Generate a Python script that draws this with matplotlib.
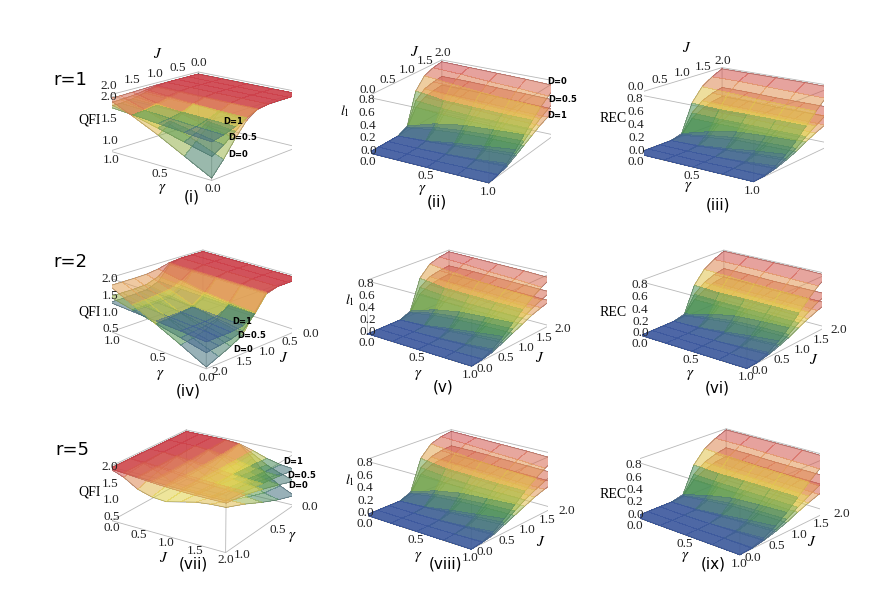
import numpy as np
import matplotlib
matplotlib.use('Agg')
import matplotlib.pyplot as plt
from matplotlib.colors import LinearSegmentedColormap, Normalize
from mpl_toolkits.mplot3d import proj3d
from mpl_toolkits.mplot3d.art3d import Poly3DCollection

plt.rcParams['mathtext.fontset'] = 'stix'

# grid of the surfaces: rows follow gamma, columns follow J
GAMMA = [0.0, 0.25, 0.5, 0.75, 1.0]
J_VALS = [0.0, 0.25, 0.5, 0.75, 1.0, 1.25, 1.5, 1.75, 2.0]

# QFI, r=1  (D=0, D=0.5, D=1)
QFI_R1_D0 = [[2, 2, 2, 2, 1.97, 1.80, 1.50, 1.15, 0.85],
             [2, 2, 2, 2, 1.97, 1.85, 1.62, 1.38, 1.15],
             [2, 2, 2, 2, 1.98, 1.90, 1.75, 1.60, 1.45],
             [2, 2, 2, 2, 1.99, 1.94, 1.86, 1.79, 1.72],
             [2, 2, 2, 2, 2.00, 1.99, 1.98, 1.97, 1.97]]
QFI_R1_D05 = [[2, 2, 2, 2, 1.97, 1.85, 1.65, 1.45, 1.30],
              [2, 2, 2, 2, 1.97, 1.87, 1.72, 1.56, 1.45],
              [2, 2, 2, 2, 1.97, 1.90, 1.78, 1.67, 1.60],
              [2, 2, 2, 2, 1.98, 1.92, 1.84, 1.78, 1.74],
              [2, 2, 2, 2, 1.98, 1.94, 1.90, 1.88, 1.87]]
QFI_R1_D1 = [[2, 2, 2, 2, 1.96, 1.86, 1.75, 1.66, 1.60],
             [2, 2, 2, 2, 1.96, 1.87, 1.77, 1.69, 1.65],
             [2, 2, 2, 2, 1.96, 1.88, 1.79, 1.73, 1.70],
             [2, 2, 2, 2, 1.96, 1.88, 1.81, 1.77, 1.75],
             [2, 2, 2, 2, 1.96, 1.89, 1.83, 1.80, 1.80]]

# QFI, r=2
QFI_R2_D0 = [[2, 2, 2, 1.95, 1.50, 1.00, 0.80, 0.65, 0.50],
             [2, 2, 2, 1.95, 1.55, 1.15, 1.00, 0.90, 0.85],
             [2, 2, 2, 1.95, 1.62, 1.35, 1.25, 1.20, 1.18],
             [2, 2, 2, 1.96, 1.75, 1.60, 1.55, 1.52, 1.50],
             [2, 2, 2, 1.97, 1.88, 1.83, 1.82, 1.82, 1.82]]
QFI_R2_D05 = [[2, 2, 2, 1.93, 1.45, 1.10, 1.00, 0.95, 0.90],
              [2, 2, 2, 1.93, 1.50, 1.20, 1.12, 1.08, 1.05],
              [2, 2, 2, 1.94, 1.55, 1.30, 1.25, 1.22, 1.20],
              [2, 2, 2, 1.94, 1.60, 1.42, 1.38, 1.36, 1.35],
              [2, 2, 2, 1.95, 1.65, 1.52, 1.50, 1.50, 1.50]]
QFI_R2_D1 = [[2, 2, 2, 1.90, 1.45, 1.25, 1.20, 1.20, 1.20],
             [2, 2, 2, 1.90, 1.45, 1.28, 1.25, 1.24, 1.24],
             [2, 2, 2, 1.90, 1.47, 1.30, 1.28, 1.27, 1.27],
             [2, 2, 2, 1.90, 1.48, 1.33, 1.31, 1.30, 1.30],
             [2, 2, 2, 1.90, 1.50, 1.36, 1.34, 1.33, 1.33]]

# QFI, r=5
QFI_R5_D0 = [[2, 2.00, 2.00, 2.00, 1.95, 1.60, 1.20, 0.95, 0.75],
             [2, 2.00, 2.00, 1.95, 1.80, 1.50, 1.25, 1.05, 0.95],
             [2, 2.00, 1.95, 1.80, 1.60, 1.45, 1.35, 1.25, 1.20],
             [2, 1.95, 1.80, 1.60, 1.50, 1.50, 1.50, 1.48, 1.48],
             [2, 1.85, 1.60, 1.48, 1.45, 1.55, 1.65, 1.70, 1.72]]
QFI_R5_D05 = [[2, 2.00, 2.00, 2.00, 1.95, 1.75, 1.50, 1.33, 1.20],
              [2, 2.00, 2.00, 1.97, 1.88, 1.74, 1.58, 1.46, 1.40],
              [2, 2.00, 1.97, 1.92, 1.84, 1.75, 1.67, 1.61, 1.58],
              [2, 1.98, 1.94, 1.89, 1.84, 1.80, 1.77, 1.75, 1.74],
              [2, 1.97, 1.93, 1.90, 1.87, 1.85, 1.84, 1.84, 1.84]]
QFI_R5_D1 = [[2, 2.00, 2.00, 2.00, 1.97, 1.85, 1.70, 1.60, 1.55],
             [2, 2.00, 2.00, 1.98, 1.93, 1.85, 1.76, 1.69, 1.66],
             [2, 2.00, 1.98, 1.95, 1.91, 1.86, 1.81, 1.77, 1.75],
             [2, 1.99, 1.97, 1.94, 1.91, 1.88, 1.86, 1.85, 1.84],
             [2, 1.98, 1.96, 1.94, 1.92, 1.91, 1.90, 1.90, 1.90]]

# l1 norm of coherence (same shape for r=1,2,5)
L1_D0 = [[0, 0.00, 0.00, 0.00, 0.08, 0.58, 0.76, 0.82, 0.85],
         [0, 0.00, 0.00, 0.03, 0.22, 0.52, 0.71, 0.80, 0.84],
         [0, 0.00, 0.02, 0.10, 0.30, 0.51, 0.67, 0.77, 0.83],
         [0, 0.01, 0.05, 0.16, 0.33, 0.50, 0.64, 0.75, 0.82],
         [0, 0.03, 0.10, 0.22, 0.36, 0.50, 0.62, 0.72, 0.80]]
L1_D05 = [[0, 0.00, 0.00, 0.00, 0.06, 0.42, 0.54, 0.58, 0.60],
          [0, 0.00, 0.00, 0.02, 0.16, 0.38, 0.51, 0.57, 0.60],
          [0, 0.00, 0.01, 0.07, 0.21, 0.36, 0.48, 0.55, 0.59],
          [0, 0.01, 0.04, 0.12, 0.24, 0.36, 0.46, 0.53, 0.58],
          [0, 0.02, 0.07, 0.16, 0.26, 0.36, 0.44, 0.51, 0.57]]
L1_D1 = [[0, 0.00, 0.00, 0.00, 0.05, 0.31, 0.40, 0.43, 0.45],
         [0, 0.00, 0.00, 0.02, 0.12, 0.28, 0.38, 0.42, 0.45],
         [0, 0.00, 0.01, 0.05, 0.16, 0.27, 0.36, 0.41, 0.44],
         [0, 0.01, 0.03, 0.09, 0.18, 0.27, 0.34, 0.39, 0.43],
         [0, 0.02, 0.05, 0.12, 0.19, 0.26, 0.33, 0.38, 0.42]]

# relative entropy of coherence
REC_D0 = [[0, 0.00, 0.00, 0.00, 0.05, 0.48, 0.69, 0.80, 0.88],
          [0, 0.00, 0.00, 0.02, 0.17, 0.46, 0.67, 0.80, 0.88],
          [0, 0.00, 0.01, 0.07, 0.26, 0.47, 0.65, 0.79, 0.88],
          [0, 0.01, 0.04, 0.13, 0.29, 0.47, 0.64, 0.78, 0.88],
          [0, 0.02, 0.08, 0.18, 0.31, 0.47, 0.63, 0.77, 0.87]]
REC_D05 = [[0, 0.00, 0.00, 0.00, 0.03, 0.32, 0.46, 0.53, 0.57],
           [0, 0.00, 0.00, 0.01, 0.11, 0.31, 0.44, 0.52, 0.57],
           [0, 0.00, 0.01, 0.05, 0.17, 0.31, 0.43, 0.52, 0.56],
           [0, 0.01, 0.03, 0.09, 0.19, 0.31, 0.42, 0.51, 0.56],
           [0, 0.01, 0.05, 0.12, 0.20, 0.31, 0.41, 0.50, 0.56]]
REC_D1 = [[0, 0.00, 0.00, 0.00, 0.02, 0.23, 0.33, 0.39, 0.42],
          [0, 0.00, 0.00, 0.01, 0.08, 0.23, 0.32, 0.38, 0.42],
          [0, 0.00, 0.01, 0.04, 0.13, 0.23, 0.32, 0.38, 0.41],
          [0, 0.01, 0.02, 0.07, 0.14, 0.23, 0.31, 0.37, 0.41],
          [0, 0.01, 0.04, 0.09, 0.15, 0.23, 0.30, 0.36, 0.41]]

GAMMA_TICKS = [0.0, 0.5, 1.0]
J_TICKS = [0.0, 0.5, 1.0, 1.5, 2.0]
QFI_TICKS_R1 = [1.0, 1.5, 2.0]
QFI_TICKS = [0.5, 1.0, 1.5, 2.0]
COH_TICKS = [0.0, 0.2, 0.4, 0.6, 0.8]
D_LABELS = ['D=0', 'D=0.5', 'D=1']

CMAP = LinearSegmentedColormap.from_list(
    'darkrainbow',
    [(0.0, '#3d599e'), (0.35, '#4c9350'), (0.6, '#e0d24a'),
     (0.8, '#e39a55'), (1.0, '#cd414b')])

FIG_W, FIG_H = 872, 606
SERIF = 'Liberation Serif'
TICK_FS = 9.5


def fx(px):
    return px / FIG_W


def fy(py):
    return 1 - py / FIG_H


def draw_box(ax, zlo, zhi):
    kw = dict(color='#b8b8b8', lw=0.6)
    for z in (zlo, zhi):
        ax.plot([0, 1, 1, 0, 0], [0, 0, 2, 2, 0], [z] * 5, **kw)
    for x in (0, 1):
        for y in (0, 2):
            ax.plot([x, x], [y, y], [zlo, zhi], **kw)


def draw_surfaces(ax, surfaces):
    polys, colors = [], []
    for z in surfaces:
        z = np.asarray(z, dtype=float)
        norm = Normalize(z.min(), z.max())
        for i in range(len(GAMMA) - 1):
            for j in range(len(J_VALS) - 1):
                quad = [(GAMMA[i], J_VALS[j], z[i, j]),
                        (GAMMA[i + 1], J_VALS[j], z[i + 1, j]),
                        (GAMMA[i + 1], J_VALS[j + 1], z[i + 1, j + 1]),
                        (GAMMA[i], J_VALS[j + 1], z[i, j + 1])]
                level = np.mean([q[2] for q in quad])
                rgba = list(CMAP(norm(level)))
                rgba[3] = 0.55
                polys.append(quad)
                colors.append(rgba)
    coll = Poly3DCollection(polys, facecolors=colors, edgecolors='none',
                            linewidths=0, antialiased=False)
    ax.add_collection3d(coll)

    # outline of every sheet
    line_kw = dict(color='#2a2a2a', lw=0.5, alpha=0.7)
    for z in surfaces:
        z = np.asarray(z, dtype=float)
        ax.plot(GAMMA, [0] * len(GAMMA), z[:, 0], **line_kw)
        ax.plot(GAMMA, [2] * len(GAMMA), z[:, -1], **line_kw)
        ax.plot([0] * len(J_VALS), J_VALS, z[0], **line_kw)
        ax.plot([1] * len(J_VALS), J_VALS, z[-1], **line_kw)


def to_px(ax, x, y, z):
    """Project a 3D data point to figure pixels (origin bottom-left)."""
    x2, y2, _ = proj3d.proj_transform(x, y, z, ax.M)
    return ax.transData.transform((x2, y2))


def tick(fig, ax, pt, s, dx, dy, ha, va):
    px, py = to_px(ax, *pt)
    fig.text((px + dx) / FIG_W, (py + dy) / FIG_H, s, fontsize=TICK_FS,
             family=SERIF, color='#222222', ha=ha, va=va)


def label_ticks(fig, ax, kind, j_side, zlim, zticks):
    zlo, zhi = zlim
    if kind == 'B':
        for g in GAMMA_TICKS:
            tick(fig, ax, (g, 0, zlo), f'{g:.1f}', -1, -3, 'center', 'top')
        for zt in zticks:
            tick(fig, ax, (0, 0, zt), f'{zt:.1f}', 0, 2, 'center', 'center')
        if j_side == 'top':
            for j in J_TICKS:
                tick(fig, ax, (0, j, zhi), f'{j:.1f}', 1, 1, 'center', 'bottom')
        else:
            for j in J_TICKS:
                tick(fig, ax, (1, j, zlo), f'{j:.1f}', 5, -3, 'left', 'center')
    elif kind == 'A':
        for g in GAMMA_TICKS:
            tick(fig, ax, (g, 2, zlo), f'{g:.1f}', 1, -3, 'center', 'top')
        for zt in zticks:
            tick(fig, ax, (1, 2, zt), f'{zt:.1f}', 0, 1, 'center', 'center')
        if j_side == 'top':
            for j in J_TICKS:
                tick(fig, ax, (1, j, zhi), f'{j:.1f}', 0, 3, 'center', 'bottom')
        else:
            for j in J_TICKS:
                tick(fig, ax, (0, j, zlo), f'{j:.1f}', 5, -3, 'left', 'center')
    else:
        for j in J_TICKS:
            tick(fig, ax, (1, j, zlo), f'{j:.1f}', 0, -1, 'center', 'top')
        for g in GAMMA_TICKS:
            tick(fig, ax, (g, 2, zlo), f'{g:.1f}', 8, -2, 'left', 'center')
        for zt in zticks:
            tick(fig, ax, (1, 0, zt), f'{zt:.1f}', 0, 2, 'center', 'center')


PANELS = [
    dict(surf=[QFI_R1_D0, QFI_R1_D05, QFI_R1_D1], kind='A', azim=131, elev=16,
         zoom=1.07, jside='top', zlim=(0.8, 2.05), zticks=QFI_TICKS_R1,
         center=(202, 124), tag='(i)', tagpos=(192, 197), zlab='QFI',
         zlabpos=(90, 120), jlabpos=(158, 53), glabpos=(162, 188),
         dpos=[(228, 154), (228, 138), (223, 122)]),
    dict(surf=[L1_D0, L1_D05, L1_D1], kind='B', azim=-59, elev=21,
         zoom=1.09, jside='top', zlim=(0.0, 0.88), zticks=COH_TICKS,
         center=(461, 119), tag='(ii)', tagpos=(437, 202), zlab='$l_1$',
         zlabpos=(345, 111), jlabpos=(415, 52), glabpos=(422, 189),
         dpos=[(547, 81), (548, 100), (547, 115)]),
    dict(surf=[REC_D0, REC_D05, REC_D1], kind='B', azim=-54, elev=16,
         zoom=1.13, jside='top', zlim=(0.0, 0.9), zticks=COH_TICKS,
         center=(734, 122), tag='(iii)', tagpos=(718, 205), zlab='REC',
         zlabpos=(613, 118), jlabpos=(687, 48), glabpos=(688, 187), dpos=None),
    dict(surf=[QFI_R2_D0, QFI_R2_D05, QFI_R2_D1], kind='A', azim=134, elev=20,
         zoom=1.06, jside='right', zlim=(0.45, 2.05), zticks=QFI_TICKS,
         center=(202, 307), tag='(iv)', tagpos=(188, 391), zlab='QFI',
         zlabpos=(90, 312), jlabpos=(284, 357), glabpos=(160, 374),
         dpos=[(233, 350), (237, 335), (232, 321)]),
    dict(surf=[L1_D0, L1_D05, L1_D1], kind='B', azim=-52, elev=20,
         zoom=1.04, jside='right', zlim=(0.0, 0.88), zticks=COH_TICKS,
         center=(457, 306), tag='(v)', tagpos=(443, 387), zlab='$l_1$',
         zlabpos=(350, 300), jlabpos=(540, 358), glabpos=(418, 374), dpos=None),
    dict(surf=[REC_D0, REC_D05, REC_D1], kind='B', azim=-52, elev=20,
         zoom=1.06, jside='right', zlim=(0.0, 0.9), zticks=COH_TICKS,
         center=(732, 307), tag='(vi)', tagpos=(717, 388), zlab='REC',
         zlabpos=(613, 313), jlabpos=(814, 359), glabpos=(690, 374), dpos=None),
    dict(surf=[QFI_R5_D0, QFI_R5_D05, QFI_R5_D1], kind='C', azim=33, elev=22,
         zoom=1.06, jside='right', zlim=(0.45, 2.05), zticks=QFI_TICKS,
         center=(202, 489), tag='(vii)', tagpos=(193, 564), zlab='QFI',
         zlabpos=(90, 492), jlabpos=(164, 557), glabpos=(292, 537),
         dpos=[(288, 486), (287, 476), (283, 462)]),
    dict(surf=[L1_D0, L1_D05, L1_D1], kind='B', azim=-51, elev=20,
         zoom=1.07, jside='right', zlim=(0.0, 0.88), zticks=COH_TICKS,
         center=(458, 487), tag='(viii)', tagpos=(445, 564), zlab='$l_1$',
         zlabpos=(350, 480), jlabpos=(541, 541), glabpos=(418, 557), dpos=None),
    dict(surf=[REC_D0, REC_D05, REC_D1], kind='B', azim=-49, elev=21,
         zoom=1.1, jside='right', zlim=(0.0, 0.9), zticks=COH_TICKS,
         center=(730, 489), tag='(ix)', tagpos=(713, 564), zlab='REC',
         zlabpos=(613, 495), jlabpos=(812, 541), glabpos=(685, 557), dpos=None),
]

ROW_LABELS = [('r=1', (70, 80)), ('r=2', (70, 262)), ('r=5', (72, 450))]

fig = plt.figure(figsize=(FIG_W / 100, FIG_H / 100), dpi=100)

AX_W, AX_H = 250, 180
axes = []
for p in PANELS:
    cx, cy = p['center']
    rect = [fx(cx - AX_W / 2), fy(cy + AX_H / 2), AX_W / FIG_W, AX_H / FIG_H]
    ax = fig.add_axes(rect, projection='3d')
    ax.set_xlim(0, 1)
    ax.set_ylim(0, 2)
    ax.set_zlim(*p['zlim'])
    ax.set_box_aspect((1, 1, 0.43), zoom=p['zoom'])
    ax.view_init(elev=p['elev'], azim=p['azim'])
    ax.set_axis_off()
    draw_box(ax, *p['zlim'])
    draw_surfaces(ax, p['surf'])
    axes.append(ax)

# projection matrices are set on the first draw
fig.canvas.draw()

for ax, p in zip(axes, PANELS):
    label_ticks(fig, ax, p['kind'], p['jside'], p['zlim'], p['zticks'])
    fig.text(fx(p['tagpos'][0]), fy(p['tagpos'][1]), p['tag'],
             fontsize=11, ha='center', va='center', family='DejaVu Sans')
    fig.text(fx(p['zlabpos'][0]), fy(p['zlabpos'][1]), p['zlab'],
             fontsize=10, ha='center', va='center', family=SERIF)
    fig.text(fx(p['jlabpos'][0]), fy(p['jlabpos'][1]), '$J$',
             fontsize=11, ha='center', va='center')
    fig.text(fx(p['glabpos'][0]), fy(p['glabpos'][1]), r'$\gamma$',
             fontsize=11, ha='center', va='center')
    if p['dpos']:
        for name, (px, py) in zip(D_LABELS, p['dpos']):
            fig.text(fx(px), fy(py), name, fontsize=6, fontweight='bold',
                     ha='left', va='center', family='DejaVu Sans')

for text, (px, py) in ROW_LABELS:
    fig.text(fx(px), fy(py), text, fontsize=13, ha='center', va='center',
             family='DejaVu Sans')

fig.savefig('out.png', dpi=100)
